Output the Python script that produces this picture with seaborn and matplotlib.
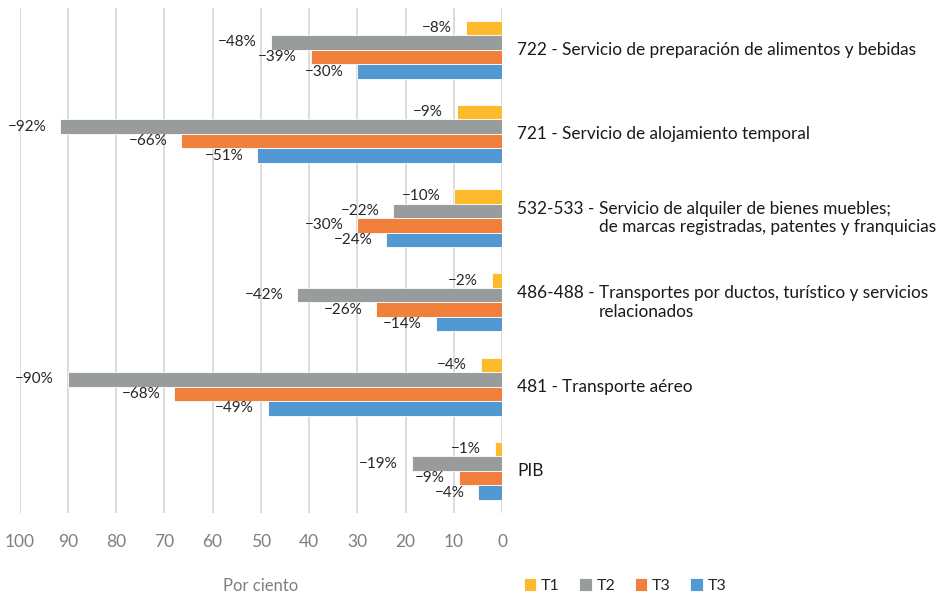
import matplotlib.pyplot as plt
import matplotlib.transforms as mtransforms
import seaborn as sns
import pandas as pd

# Categorías de arriba hacia abajo
categorias = ["722", "721", "532-533", "486-488", "481", "PIB"]
codigos = ["722 - ", "721 - ", "532-533 - ", "486-488 - ", "481 - ", ""]
descripciones = [
    "Servicio de preparación de alimentos y bebidas",
    "Servicio de alojamiento temporal",
    "Servicio de alquiler de bienes muebles;\nde marcas registradas, patentes y franquicias",
    "Transportes por ductos, turístico y servicios\nrelacionados",
    "Transporte aéreo",
    "PIB",
]

series = ["T1", "T2", "T3a", "T3b"]
etiquetas_leyenda = ["T1", "T2", "T3", "T3"]
colores = ["#FDBA2C", "#999C9C", "#F0803C", "#5299D3"]

# Caída en por ciento (largo de cada barra)
caida_t1 = [7.5, 9.4, 9.9, 2.1, 4.4, 1.5]
caida_t2 = [47.9, 91.6, 22.5, 42.4, 90.0, 18.7]
caida_t3a = [39.6, 66.5, 30.0, 26.1, 67.9, 8.9]
caida_t3b = [30.0, 50.7, 24.0, 13.7, 48.6, 4.9]

# Valores publicados en las etiquetas
etiqueta_t1 = [-8, -9, -10, -2, -4, -1]
etiqueta_t2 = [-48, -92, -22, -42, -90, -19]
etiqueta_t3a = [-39, -66, -30, -26, -68, -9]
etiqueta_t3b = [-30, -51, -24, -14, -49, -4]

filas = []
for serie, valores in zip(series, [caida_t1, caida_t2, caida_t3a, caida_t3b]):
    for cat, val in zip(categorias, valores):
        filas.append({"categoria": cat, "serie": serie, "caida": val})
datos = pd.DataFrame(filas)

sns.set_style("white")
plt.rcParams["font.family"] = ["Lato", "DejaVu Sans"]

figura = plt.figure(figsize=(9.47, 5.94), dpi=100)
area_dibujo = figura.add_axes([0.0206, 0.1365, 0.5095, 0.8507])

sns.barplot(
    data=datos, x="caida", y="categoria", hue="serie",
    order=categorias, hue_order=series, palette=colores, saturation=1,
    orient="h", width=0.69, errorbar=None,
    edgecolor="white", linewidth=0.6, ax=area_dibujo
)

area_dibujo.set_xlim(100, 0)
area_dibujo.set_xticks(range(0, 101, 10))
area_dibujo.grid(axis="x", color="#D9D9D9", linewidth=1.3)
area_dibujo.set_axisbelow(True)
for lado in area_dibujo.spines.values():
    lado.set_visible(False)

area_dibujo.tick_params(axis="x", length=0, pad=15, labelsize=12.5, labelcolor="#7F7F7F")
area_dibujo.tick_params(axis="y", left=False, labelleft=False)
area_dibujo.set_ylabel("")
area_dibujo.set_xlabel("Por ciento", fontsize=12, color="#7F7F7F", labelpad=20)

# Etiquetas de valor a la izquierda de cada barra
for contenedor, etiquetas in zip(area_dibujo.containers,
                                 [etiqueta_t1, etiqueta_t2, etiqueta_t3a, etiqueta_t3b]):
    textos = [f"{v}%".replace("-", "\u2212") for v in etiquetas]
    area_dibujo.bar_label(contenedor, labels=textos, padding=10, fontsize=11, color="#262626")

# Nombres de categorías a la derecha
mezcla = mtransforms.blended_transform_factory(area_dibujo.transAxes, area_dibujo.transData)
for i, (codigo, desc) in enumerate(zip(codigos, descripciones)):
    n_lineas = desc.count("\n") + 1
    if codigo:
        texto_codigo = area_dibujo.text(
            1.031, i, codigo + "\n" * (n_lineas - 1), transform=mezcla,
            ha="left", va="center", fontsize=12.4, color="#1A1A1A"
        )
        area_dibujo.annotate(
            desc, xy=(1, 1), xycoords=texto_codigo, ha="left", va="top",
            fontsize=12.4, color="#1A1A1A", annotation_clip=False
        )
    else:
        area_dibujo.text(1.031, i, desc, transform=mezcla, ha="left", va="center",
                         fontsize=12.4, color="#1A1A1A")

# Leyenda inferior
manijas, _ = area_dibujo.get_legend_handles_labels()
area_dibujo.legend_.remove()
figura.legend(
    manijas, etiquetas_leyenda, loc="center", bbox_to_anchor=(0.66, 0.014),
    ncol=4, frameon=False, fontsize=11.5, handlelength=0.8, handleheight=0.8,
    handletextpad=0.3, columnspacing=1.2
)

figura.savefig("out.png", dpi=100)
plt.close(figura)
